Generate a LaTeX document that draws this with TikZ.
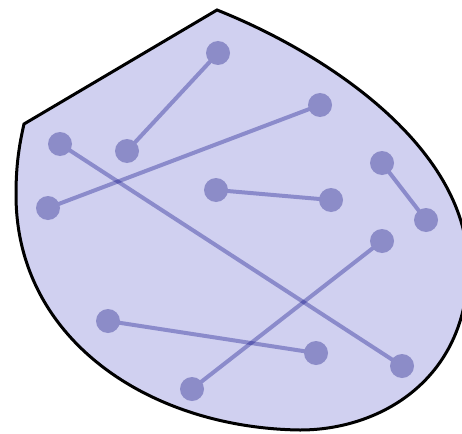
\documentclass[tikz,border=0pt]{standalone}
\pgfdeclarelayer{back}
\pgfdeclarelayer{mid}
\pgfsetlayers{back,mid,main}
\begin{document}
\begin{tikzpicture}[x=1pt,y=-1pt,
  dot/.style={circle,fill={rgb,255:red,140;green,140;blue,200},inner sep=0pt,minimum size=24pt},
  link/.style={draw={rgb,255:red,0;green,0;blue,128},draw opacity=0.33,line width=4pt}]
\useasboundingbox (0,0) rectangle (462,433);
\clip (0,0) rectangle (462,433);
\node[dot] (A) at (218,53) {};
\node[dot] (B) at (127,151) {};
\node[dot] (C) at (320,105) {};
\node[dot] (D) at (48,208) {};
\node[dot] (E) at (60,144) {};
\node[dot] (F) at (402,366) {};
\node[dot] (G) at (216,190) {};
\node[dot] (H) at (331,200) {};
\node[dot] (I) at (382,163) {};
\node[dot] (J) at (426,220) {};
\node[dot] (K) at (382,241) {};
\node[dot] (L) at (192,389) {};
\node[dot] (M) at (108,321) {};
\node[dot] (N) at (316,353) {};
\begin{pgfonlayer}{back}
\draw[line width=3pt,line join=miter,fill={rgb,255:red,208;green,208;blue,240}]
  (24,124) -- (217,10)
  .. controls (330,55) and (470,150) .. (468,270)
  .. controls (466,380) and (380,430) .. (300,430)
  .. controls (150,428) and (16,340) .. (16,195)
  .. controls (16,170) and (18,150) .. (24,124) -- cycle;
\end{pgfonlayer}
\begin{pgfonlayer}{mid}
\path[link] (A.center) -- (B.center);
\path[link] (C.center) -- (D.center);
\path[link] (E.center) -- (F.center);
\path[link] (G.center) -- (H.center);
\path[link] (I.center) -- (J.center);
\path[link] (K.center) -- (L.center);
\path[link] (M.center) -- (N.center);
\end{pgfonlayer}
\end{tikzpicture}
\end{document}
